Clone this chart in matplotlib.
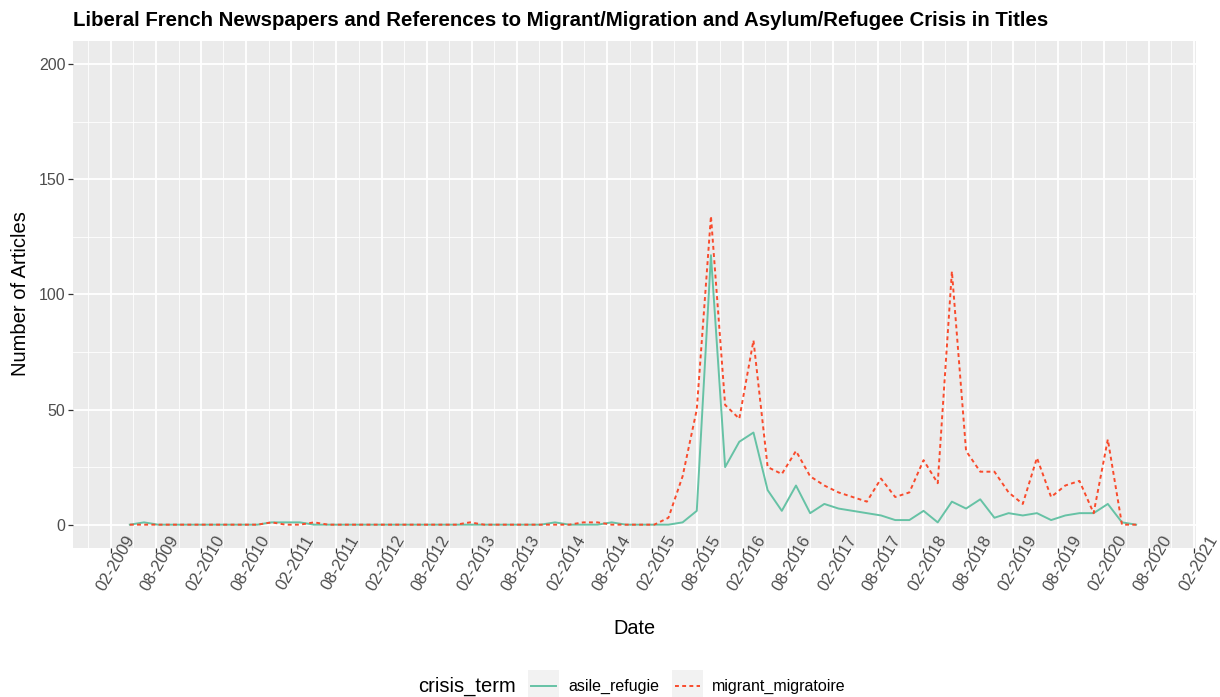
import matplotlib
matplotlib.use("Agg")
import matplotlib.pyplot as plt
from matplotlib.patches import Rectangle
from matplotlib.lines import Line2D
from matplotlib.transforms import ScaledTranslation
import numpy as np
import pandas as pd

# ---- data (72 evenly spaced periods) ----
dates = pd.date_range("2009-04-18", "2020-06-12", periods=72)
asile_refugie = [0, 1, 0, 0, 0, 0, 0, 0, 0, 0,
                 1, 1, 1, 0, 0, 0, 0, 0, 0, 0,
                 0, 0, 0, 0, 0, 0, 0, 0, 0, 0,
                 1, 0, 0, 0, 1, 0, 0, 0, 0, 1,
                 6, 117, 25, 36, 40, 15, 6, 17, 5, 9,
                 7, 6, 5, 4, 2, 2, 6, 1, 10, 7,
                 11, 3, 5, 4, 5, 2, 4, 5, 5, 9,
                 1, 0]
migrant_migratoire = [0, 0, 0, 0, 0, 0, 0, 0, 0, 0,
                      1, 0, 0, 1, 0, 0, 0, 0, 0, 0,
                      0, 0, 0, 0, 1, 0, 0, 0, 0, 0,
                      0, 0, 1, 1, 0, 0, 0, 0, 3, 21,
                      50, 134, 52, 46, 80, 25, 22, 32, 21, 17,
                      14, 12, 10, 20, 12, 14, 28, 18, 110, 32,
                      23, 23, 14, 9, 29, 12, 17, 19, 5, 37,
                      0, 0]
major_ticks = pd.date_range("2009-02-01", "2021-02-01", freq="6MS")
minor_ticks = pd.date_range("2008-11-01", "2021-02-01", freq="6MS")

GREEN = "#66C2A5"
RED = "#F94B2C"
PANEL = "#EBEBEB"
DASH = (0, (2.0, 1.7))
W, H = 1220, 697

plt.rcParams["font.family"] = ["Liberation Sans", "DejaVu Sans"]

fig = plt.figure(figsize=(W / 100, H / 100), dpi=100)
fig.patch.set_facecolor("white")
L, R, T, B = 73, 1195.7, 41, 547.7
ax = fig.add_axes([L / W, 1 - B / H, (R - L) / W, (B - T) / H])
ax.set_facecolor(PANEL)
for s in ax.spines.values():
    s.set_visible(False)

ax.plot(dates, asile_refugie, color=GREEN, lw=1.4, solid_joinstyle="round")
ax.plot(dates, migrant_migratoire, color=RED, lw=1.4, ls=DASH)

ax.set_ylim(-10, 210)
ax.set_xlim(pd.Timestamp("2008-08-31"), pd.Timestamp("2021-02-08"))
ax.set_yticks([0, 50, 100, 150, 200])
ax.set_yticks([25, 75, 125, 175], minor=True)
ax.set_xticks(major_ticks)
ax.set_xticks(minor_ticks, minor=True)
ax.set_xticklabels([d.strftime("%m-%Y") for d in major_ticks])
ax.grid(which="major", color="white", lw=1.3)
ax.grid(which="minor", color="white", lw=0.6)
ax.set_axisbelow(True)
ax.tick_params(which="minor", length=0)
ax.tick_params(which="major", length=3.5, width=0.9, color="#333333",
               labelcolor="#4D4D4D", labelsize=11.5)
ax.tick_params(axis="y", pad=2)
ax.tick_params(axis="x", pad=4, labelsize=12)
for lab in ax.get_xticklabels():
    lab.set_rotation(60)
    lab.set_rotation_mode("anchor")
    lab.set_ha("center")
    lab.set_va("center")
    lab.set_transform(lab.get_transform() + ScaledTranslation(0.045, -0.048, fig.dpi_scale_trans))

fig.text(634 / W, 1 - 629 / H, "Date", ha="center", va="center", fontsize=14.3, color="black")
fig.text(20.5 / W, 1 - 294 / H, "Number of Articles", ha="center", va="center",
         rotation=90, fontsize=14.5, color="black")
fig.text(L / W, 1 - 20 / H,
         "Liberal French Newspapers and References to Migrant/Migration and Asylum/Refugee Crisis in Titles",
         ha="left", va="center", fontsize=14.7, fontweight="bold", color="black")

# ---- legend drawn at the bottom, ggplot style ----
def px(x, y):
    return x / W, 1 - y / H

fig.text(*px(418, 686), "crisis_term", ha="left", va="center", fontsize=14.5)
for (x0, color, ls, label) in [(528, GREEN, "-", "asile_refugie"),
                               (672, RED, DASH, "migrant_migratoire")]:
    fig.add_artist(Rectangle(px(x0, 697), 31 / W, 27 / H, transform=fig.transFigure,
                             facecolor="#F2F2F2", edgecolor="none"))
    fig.add_artist(Line2D([(x0 + 3) / W, (x0 + 28) / W], [1 - 686 / H] * 2,
                          transform=fig.transFigure, color=color, lw=1.4, ls=ls))
    fig.text(*px(x0 + 40, 686), label, ha="left", va="center", fontsize=11.5)

fig.savefig("out.png", dpi=100, facecolor="white")
